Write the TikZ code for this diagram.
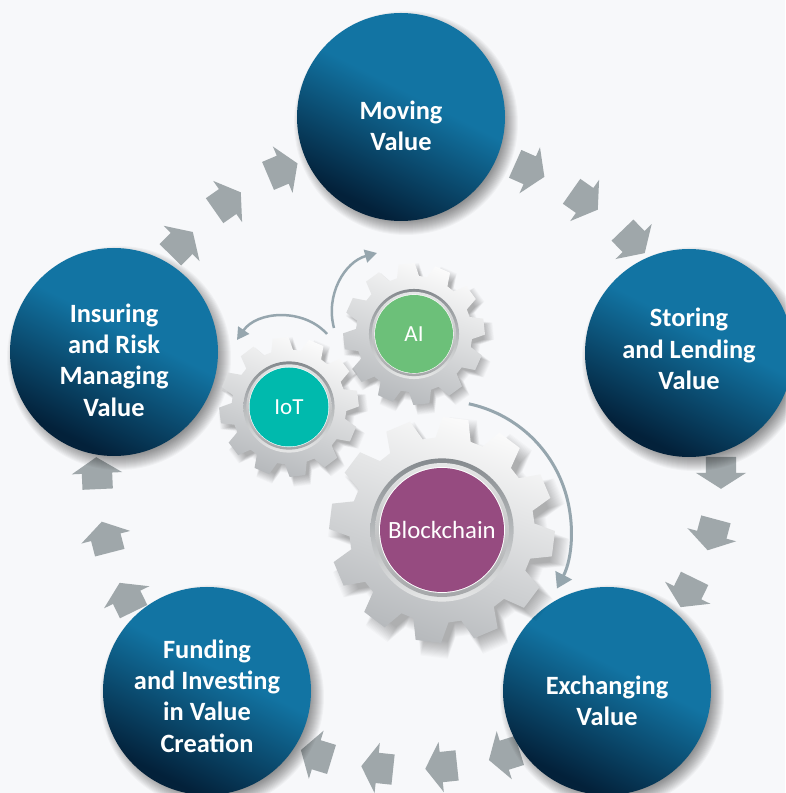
\documentclass[tikz,border=0pt]{standalone}
\usepackage{fontspec}
\setmainfont{Carlito}
\usetikzlibrary{shapes.arrows,arrows.meta}

\definecolor{paper}{HTML}{F7F8FA}
\definecolor{valuemid}{HTML}{1274A3}
\definecolor{valuedark}{HTML}{03213A}
\definecolor{flowgrey}{HTML}{9FA7AA}
\definecolor{spingrey}{HTML}{96A6AE}
\definecolor{gearlight}{HTML}{FBFBFB}
\definecolor{geardark}{HTML}{B6B9BC}
\definecolor{ringdark}{HTML}{858A8E}
\definecolor{ringlight}{HTML}{E6E7E7}
\definecolor{ringmid}{HTML}{A5A7A9}
\definecolor{chainpurple}{HTML}{964B80}
\definecolor{iotteal}{HTML}{00BAAD}
\definecolor{aigreen}{HTML}{6CC079}

\pgfdeclareverticalshading{valueblue}{100bp}{color(0bp)=(valuedark); color(27bp)=(valuedark); color(56bp)=(valuemid); color(100bp)=(valuemid)}

\newcommand{\gearoutline}[2]{(#2-11:0.82*#1) \foreach \k in {0,...,11}{ -- (#2+30*\k-11:0.82*#1) -- (#2+30*\k-6.5:#1) -- (#2+30*\k+6.5:#1) -- (#2+30*\k+11:0.82*#1)} -- cycle}

\begin{document}
\begin{tikzpicture}[x=1pt, y=1pt]
                  \tikzstyle{flow}=[single arrow, fill=flowgrey, minimum height=32pt, minimum width=50pt, inner xsep=0pt, inner ysep=15pt, single arrow head extend=10pt, single arrow tip angle=115]
                  \tikzstyle{valuecircle}=[circle, minimum size=208pt, inner sep=0pt, shade, shading=valueblue, shading angle=-27]
                  \tikzstyle{valuetext}=[text=white, align=center, font=\fontsize{26.4}{31.3}\selectfont\bfseries]
                  \tikzstyle{hub}=[circle, inner sep=0pt, text=white]
                  \tikzstyle{spin}=[draw=spingrey, line width=2.5pt]

                  \useasboundingbox (0,0) rectangle (785,793);
                  \fill[paper] (0,0) rectangle (785,793);

                  \foreach \x/\y/\a [count=\i] in {529/623/-24, 584/593/-35, 633/552/-46,
                                                   721/321/-90, 712/259/-105, 688/201/-116,
                                                   505/38/197.5, 442/26/186, 378/25/174, 317/38/163,
                                                   127/195/116, 106/255/104.5, 97/319/92.6,
                                                   181/549/45.5, 227/591/35, 282/623/23}
                    \node[flow, rotate=\a, xshift=-4pt] (flow\i) at (\x,\y) {};

                  \foreach \name/\x/\y/\dy/\txt in {moving/401/676/-9/{Moving\\Value},
                                                    storing/689/440/4/{Storing\\and Lending\\Value},
                                                    exchanging/607/102/-10/{Exchanging\\Value},
                                                    funding/207/102/-5/{Funding\\and Investing\\in Value\\Creation},
                                                    insuring/114/441/-8/{Insuring\\and Risk\\Managing\\Value}}
                  {
                    \foreach \s in {90,91,...,112}
                      \fill[black, opacity=0.032] (\x+5,\y-6) circle (\s);
                    \node[valuecircle] (\name) at (\x,\y) {};
                    \node[valuetext] (\name text) at ([yshift=\dy pt]\name.center) {\txt};
                  }

                  \foreach \name/\x/\y/\r/\off/\h/\col/\fs/\txt in {ai/414/459/71/6/39/aigreen/23/AI,
                                                                    iot/289/386/70/7/39.5/iotteal/23/IoT,
                                                                    blockchain/442/263/113/23/62/chainpurple/24.8/Blockchain}
                  {
                    \foreach \s in {0.92,0.93,...,1.07}
                      \fill[black, opacity=0.02, shift={(\x+0.06*\r,\y-0.07*\r)}, scale=\s] \gearoutline{\r}{\off};
                    \shade[top color=gearlight, bottom color=geardark, shading angle=-20, shift={(\x,\y)}] \gearoutline{\r}{\off};
                    \shade[top color=ringdark, bottom color=ringlight] (\x,\y) circle (1.155*\h);
                    \shade[top color=ringlight, bottom color=ringmid] (\x,\y) circle (1.08*\h);
                    \fill[white] (\x,\y) circle (1.015*\h);
                    \node[hub, fill=\col, minimum size=2*\h, font=\fontsize{\fs}{\fs}\selectfont] (\name) at (\x,\y) {\txt};
                  }

                  \coordinate (iotfrom) at (327,459);
                  \coordinate (iotto) at (237,453);
                  \coordinate (aifrom) at (334,465);
                  \coordinate (aito) at (377,540);

                  \draw[spin, -{Triangle[length=12pt,width=13pt]}] (iotfrom) to[bend right=52] (iotto);
                  \draw[spin, -{Triangle[length=12pt,width=13pt]}] (aifrom) to[bend left=45] (aito);
                  \draw[spin, line width=3pt, -{Triangle[length=15pt,width=18pt]}] ([shift={(78:129)}]blockchain.center) arc[start angle=78, end angle=-27, radius=129];
                \end{tikzpicture}
\end{document}
